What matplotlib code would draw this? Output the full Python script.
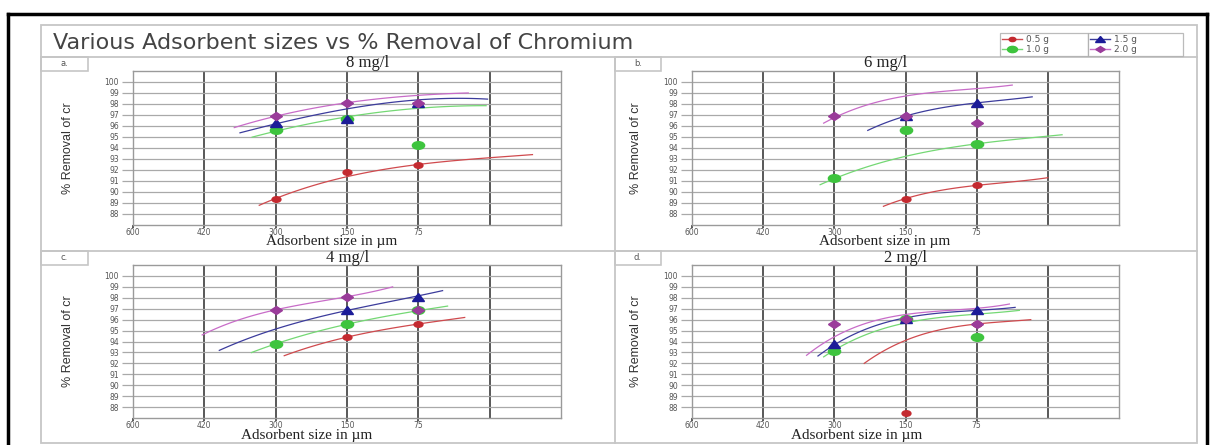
import numpy as np
import matplotlib.pyplot as plt
from matplotlib.lines import Line2D
from matplotlib.patches import Rectangle
from matplotlib.markers import MarkerStyle
from matplotlib.transforms import Affine2D

W, H = 1211, 445

# ---- data ----
size_labels = ['600', '420', '300', '150', '75']
size_pos = [2, 3, 4]                      # category slots of 300, 150, 75 um
doses = ['0.5 g', '1.0 g', '1.5 g', '2.0 g']
conc_titles = ['8 mg/l', '6 mg/l', '4 mg/l', '2 mg/l']
panel_tags = ['a.', 'b.', 'c.', 'd.']
y_ticks = list(range(88, 101))

# % removal at 300 / 150 / 75 um, one row per dose
removal_8 = [[89.4, 91.8, 92.5], [95.6, 96.6, 94.3], [96.3, 96.6, 98.1], [96.9, 98.1, 98.1]]
removal_6 = [[np.nan, 89.4, 90.6], [91.3, 95.6, 94.4], [np.nan, 96.9, 98.1], [96.9, 96.9, 96.3]]
removal_4 = [[np.nan, 94.4, 95.6], [93.8, 95.6, 96.9], [np.nan, 96.9, 98.1], [96.9, 98.1, 96.9]]
removal_2 = [[np.nan, 87.5, 95.6], [93.1, 96.1, 94.4], [93.8, 96.1, 96.9], [95.6, 96.1, 95.6]]

# trend curves, points (x = category slot, y = % removal)
trend_8 = [([1.77, 2, 3, 4, 5.6], [88.8, 89.4, 91.4, 92.5, 93.4]),
           ([1.67, 2, 3, 4, 4.95], [95.0, 95.5, 96.85, 97.6, 97.85]),
           ([1.5, 2, 3, 4, 4.97], [95.4, 96.15, 97.6, 98.35, 98.45]),
           ([1.42, 2, 3, 4, 4.7], [95.85, 96.9, 98.1, 98.8, 99.0])]
trend_6 = [([2.69, 3, 4, 5.0], [88.7, 89.4, 90.6, 91.3]),
           ([1.8, 2, 3, 4, 5.2], [90.6, 91.3, 93.2, 94.4, 95.2]),
           ([2.47, 3, 4, 4.78], [95.6, 96.9, 98.1, 98.65]),
           ([1.85, 2, 3, 4, 4.5], [96.15, 96.9, 98.66, 99.45, 99.7])]
trend_4 = [([2.12, 3, 4, 4.65], [92.7, 94.4, 95.6, 96.2]),
           ([1.66, 2, 3, 4, 4.41], [93.0, 93.76, 95.6, 96.8, 97.25]),
           ([1.21, 2, 3, 4, 4.34], [93.2, 95.1, 96.9, 98.1, 98.7]),
           ([0.97, 2, 3, 3.64], [94.6, 96.9, 98.1, 99.0])]
trend_2 = [([2.42, 3, 4, 4.76], [92.0, 94.1, 95.6, 96.0]),
           ([1.85, 2, 3, 4, 4.6], [92.6, 93.2, 95.7, 96.5, 96.85]),
           ([1.77, 2, 3, 4, 4.54], [92.6, 93.8, 96.1, 96.9, 97.1]),
           ([1.61, 2, 3, 4, 4.46], [92.7, 94.5, 96.4, 97.1, 97.4])]

panels = [removal_8, removal_6, removal_4, removal_2]
trends = [trend_8, trend_6, trend_4, trend_2]

# ---- styling ----
point_colors = ['#c42a30', '#3ec43e', '#1c1c98', '#9a3c9a']
line_colors = ['#d04a4e', '#74d874', '#3c3c9c', '#c86cc8']
stretch = Affine2D().scale(1.6, 1.0)
markers = [MarkerStyle('o', transform=stretch), MarkerStyle('o', transform=stretch),
           MarkerStyle('^', transform=stretch), MarkerStyle('D', transform=stretch)]
marker_sizes = [4, 5.5, 5.5, 4]

# pixel boxes (left, top, right, bottom)
ax_boxes = [(133, 71, 561, 225), (692, 71, 1119, 225),
            (133, 265, 561, 418), (692, 265, 1119, 418)]
tag_boxes = [(41, 57, 88, 71), (615, 57, 661, 71), (41, 251, 88, 265), (615, 251, 661, 265)]
title_x = [368, 886, 348, 906]
title_y = [63, 63, 258, 258]
xlabel_x = [332, 885, 307, 857]
xlabel_y = [242, 242, 436, 436]
ylabel_x = [68, 636, 68, 636]

def fx(x):
    return x / W

def fy(y):
    return 1 - y / H

fig = plt.figure(figsize=(W / 100, H / 100), dpi=100)

def fig_line(xs, ys, **kw):
    fig.add_artist(Line2D([fx(v) for v in xs], [fy(v) for v in ys],
                          transform=fig.transFigure, **kw))

# screenshot frame
fig_line([8, 1207], [14, 14], color='black', lw=2.5)
fig_line([8, 8], [14, 445], color='black', lw=2.5)
fig_line([1207, 1207], [14, 445], color='black', lw=2.5)

# light panel frame and dividers
frame_c = '#c6c6c6'
fig.add_artist(Rectangle((fx(41), fy(443)), fx(1197) - fx(41), fy(25) - fy(443),
                         transform=fig.transFigure, fill=False, ec=frame_c, lw=1.3))
fig_line([41, 1197], [57, 57], color=frame_c, lw=1.3)
fig_line([41, 1197], [251, 251], color=frame_c, lw=1.3)
fig_line([615, 615], [57, 443], color=frame_c, lw=1.3)

fig.text(fx(53), fy(43), 'Various Adsorbent sizes vs % Removal of Chromium',
         fontsize=16, color='#444444', va='center', ha='left', family='DejaVu Sans')

for i, (l, t, r, b) in enumerate(ax_boxes):
    ax = fig.add_axes([fx(l), fy(b), fx(r) - fx(l), fy(t) - fy(b)])
    ax.set_xlim(0, 6)
    ax.set_ylim(87, 101)
    ax.set_xticks(range(len(size_labels)))
    ax.set_xticklabels(size_labels)
    ax.set_yticks(y_ticks)
    ax.yaxis.grid(True, color='#a9a9a9', lw=0.9)
    for gx in range(1, 6):
        ax.axvline(gx, color='#585858', lw=1.4, zorder=1)
    ax.tick_params(axis='y', length=8, width=0.9, color='#a9a9a9', pad=2,
                   labelsize=5.5, labelcolor='#555555')
    ax.tick_params(axis='x', length=2, width=1.4, color='#585858', pad=0.5,
                   labelsize=5.5, labelcolor='#555555')
    for s in ax.spines.values():
        s.set_color('#9a9a9a')
        s.set_linewidth(1.0)

    # trend curves
    for k, (tx, ty) in enumerate(trends[i]):
        coef = np.polyfit(tx, ty, min(3, len(tx) - 1))
        xs = np.linspace(tx[0], tx[-1], 80)
        ax.plot(xs, np.polyval(coef, xs), color=line_colors[k], lw=0.9, zorder=2)
    # measured points
    for k, vals in enumerate(panels[i]):
        ax.plot(size_pos, vals, ls='none', marker=markers[k], ms=marker_sizes[k],
                color=point_colors[k], zorder=3 + k)

    fig.text(fx(title_x[i]), fy(title_y[i]), conc_titles[i], fontsize=12, color='#222222',
             ha='center', va='center', family='Liberation Serif')
    fig.text(fx(xlabel_x[i]), fy(xlabel_y[i]), 'Adsorbent size in µm', fontsize=11,
             color='#222222', ha='center', va='center', family='Liberation Serif')
    fig.text(fx(ylabel_x[i]), fy((t + b) / 2), '% Removal of cr', fontsize=9,
             rotation=90, color='#333333', ha='center', va='center',
             family='Liberation Sans')

    tl, tt, tr, tb = tag_boxes[i]
    fig.add_artist(Rectangle((fx(tl), fy(tb)), fx(tr) - fx(tl), fy(tt) - fy(tb),
                             transform=fig.transFigure, fill=False, ec=frame_c, lw=1.2))
    fig.text(fx((tl + tr) / 2), fy((tt + tb) / 2), panel_tags[i], fontsize=6,
             color='#555555', ha='center', va='center')

# legend, two boxed columns side by side
handles = [Line2D([], [], color=line_colors[k], marker=markers[k], ms=marker_sizes[k] - 1,
                  mfc=point_colors[k], mec=point_colors[k], lw=1.0, label=doses[k])
           for k in range(4)]
for col, (x0, x1) in enumerate([(1000, 1088), (1088, 1183)]):
    leg = fig.legend(handles=handles[2 * col:2 * col + 2], loc='upper left',
                     bbox_to_anchor=(fx(x0), fy(53), fx(x1) - fx(x0), fy(33) - fy(53)),
                     mode='expand', frameon=True, fancybox=False,
                     fontsize=6.5, handlelength=2.2, handletextpad=0.5, borderpad=0.2,
                     labelspacing=0.1, borderaxespad=0)
    leg.get_frame().set_edgecolor('#aaaaaa')
    leg.get_frame().set_linewidth(0.9)
    for txt in leg.get_texts():
        txt.set_color('#555555')

fig.savefig('out.png', dpi=100)
